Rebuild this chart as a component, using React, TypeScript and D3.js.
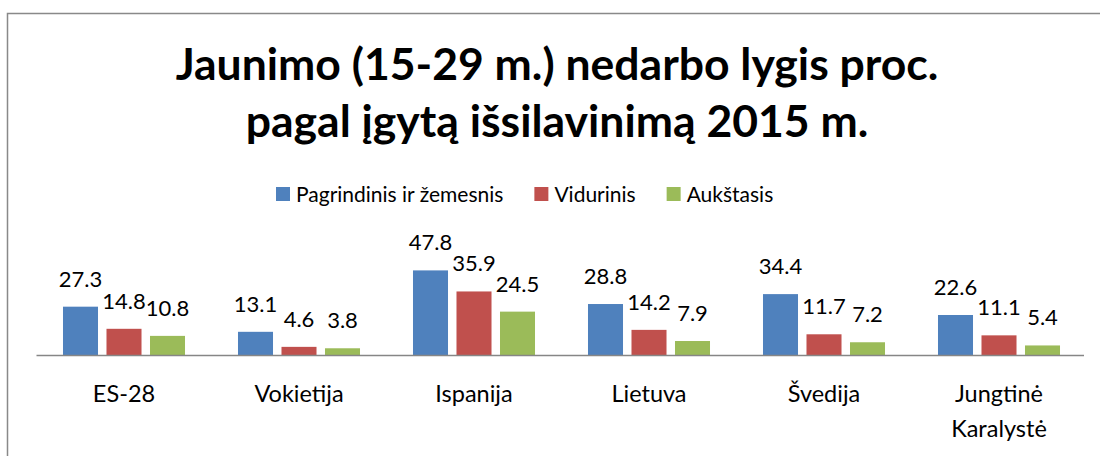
import { useEffect, useRef } from "react";
import * as d3 from "d3";

const categories = ["ES-28", "Vokietija", "Ispanija", "Lietuva", "Švedija", "Jungtinė Karalystė"];
const series = ["Pagrindinis ir žemesnis", "Vidurinis", "Aukštasis"];
const pagrindinis = [27.3, 13.1, 47.8, 28.8, 34.4, 22.6];
const vidurinis = [14.8, 4.6, 35.9, 14.2, 11.7, 11.1];
const aukstasis = [10.8, 3.8, 24.5, 7.9, 7.2, 5.4];
const titleLines = ["Jaunimo (15-29 m.) nedarbo lygis proc.", "pagal įgytą išsilavinimą 2015 m."];

const colors = ["#4F81BD", "#C0504D", "#9BBB59"];
const FONT = "Lato, 'Open Sans', sans-serif";

function App() {
    const svgRef = useRef<SVGSVGElement | null>(null);

    useEffect(() => {
        const svg = d3.select(svgRef.current!);
        svg.selectAll("*").remove();
        const width = 1100, height = 456;
        svg.attr("width", width).attr("height", height).style("background", "#fff");

        // outer chart frame (right and bottom run off the picture)
        svg.append("rect")
            .attr("x", 7.5).attr("y", 13.5)
            .attr("width", 1200).attr("height", 600)
            .attr("fill", "none").attr("stroke", "#898989").attr("stroke-width", 1.5);

        // title
        const title = svg.append("text")
            .attr("text-anchor", "middle")
            .attr("font-family", FONT)
            .attr("font-weight", "bold")
            .attr("font-size", 44.5)
            .attr("fill", "#000");
        titleLines.forEach((t, i) => {
            title.append("tspan").attr("x", 557).attr("y", 80 + i * 57).text(t);
        });

        // legend
        const legend = svg.append("g").attr("font-family", FONT).attr("font-size", 21);
        let lx = 276;
        series.forEach((s, i) => {
            legend.append("rect").attr("x", lx).attr("y", 187).attr("width", 14).attr("height", 14).attr("fill", colors[i]);
            const t = legend.append("text").attr("x", lx + 20).attr("y", 201.5).attr("fill", "#000").text(s);
            const w = (t.node() as SVGTextElement).getComputedTextLength();
            lx += 20 + w + 31;
        });

        const values = [pagrindinis, vidurinis, aukstasis];
        const x0 = d3.scaleBand<string>().domain(categories).range([36.5, 1086.5]);
        const x1 = d3.scaleBand<string>().domain(series).range([0, x0.bandwidth()])
            .paddingInner(0.195).paddingOuter(0.609);
        const y = d3.scaleLinear().domain([0, 50]).range([355, 266.5]);

        const groups = svg.append("g").selectAll("g")
            .data(categories)
            .join("g")
            .attr("transform", d => `translate(${x0(d)},0)`);

        groups.selectAll("rect")
            .data((_, ci) => series.map((s, si) => ({ s, si, v: values[si][ci] })))
            .join("rect")
            .attr("x", d => x1(d.s)!)
            .attr("y", d => y(d.v))
            .attr("width", x1.bandwidth())
            .attr("height", d => y(0) - y(d.v))
            .attr("fill", d => colors[d.si]);

        groups.selectAll("text.val")
            .data((_, ci) => series.map((s, si) => ({ s, si, v: values[si][ci] })))
            .join("text")
            .attr("class", "val")
            .attr("x", d => x1(d.s)! + x1.bandwidth() / 2)
            .attr("y", d => y(d.v) - 20)
            .attr("text-anchor", "middle")
            .attr("font-family", FONT)
            .attr("font-size", 22)
            .attr("fill", "#000")
            .text(d => d.v.toFixed(1));

        // category axis
        svg.append("line")
            .attr("x1", 36.5).attr("x2", 1084)
            .attr("y1", 355.5).attr("y2", 355.5)
            .attr("stroke", "#868686").attr("stroke-width", 1.5);

        const labels = svg.append("g").attr("font-family", FONT).attr("font-size", 23.5)
            .attr("text-anchor", "middle").attr("fill", "#000");
        categories.forEach(c => {
            const cx = x0(c)! + x0.bandwidth() / 2;
            const parts = c.split(" ");
            const t = labels.append("text");
            parts.forEach((p, i) => {
                t.append("tspan").attr("x", cx).attr("y", 402 + i * 35).text(p);
            });
        });
    }, []);

    return (
        <div style={{ position: "absolute", left: 0, top: 0 }}>
            <svg ref={svgRef}></svg>
        </div>
    );
}

export default App;
